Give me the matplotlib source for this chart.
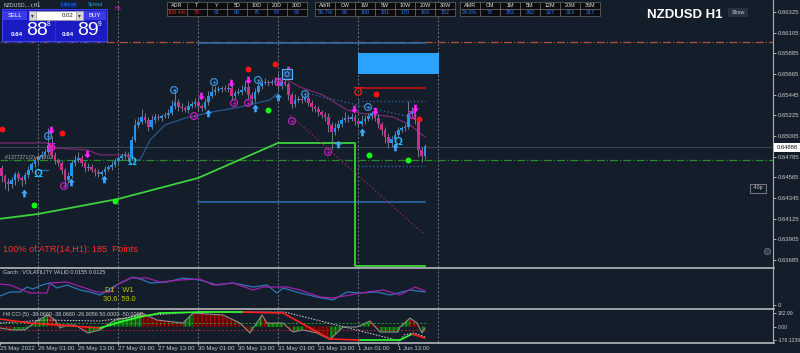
import matplotlib
matplotlib.use("Agg")
import matplotlib.pyplot as plt
from matplotlib.patches import Rectangle
from matplotlib.path import Path
import numpy as np

plt.rcParams['font.family'] = ['Liberation Sans', 'DejaVu Sans']
plt.rcParams['hatch.linewidth'] = 0.7

BG = '#141d2a'
BULL = '#2393f0'
BEAR = '#cc2e8c'

# ---------------- data ----------------
first_open = 0.64665
closes = [
    0.64580, 0.64516, 0.64495, 0.64538, 0.64601, 0.64559, 0.64538, 0.64591, 0.64644, 0.64708, 0.64751, 0.64782, 0.64804, 0.64836, 0.64910, 0.64804,
    0.64751, 0.64719, 0.64644, 0.64538, 0.64580, 0.64719, 0.64751, 0.64772, 0.64719, 0.64665, 0.64676, 0.64644, 0.64623, 0.64601, 0.64623, 0.64655,
    0.64676, 0.64697, 0.64740, 0.64772, 0.64793, 0.64804, 0.64782, 0.64963, 0.65123, 0.65155, 0.65208, 0.65176, 0.65102, 0.65176, 0.65208, 0.65197,
    0.65218, 0.65229, 0.65250, 0.65325, 0.65368, 0.65314, 0.65304, 0.65282, 0.65325, 0.65346, 0.65368, 0.65325, 0.65304, 0.65368, 0.65432, 0.65474,
    0.65495, 0.65506, 0.65517, 0.65506, 0.65517, 0.65432, 0.65463, 0.65474, 0.65495, 0.65527, 0.65442, 0.65400, 0.65474, 0.65538, 0.65570, 0.65580,
    0.65570, 0.65580, 0.65591, 0.65538, 0.65580, 0.65559, 0.65442, 0.65346, 0.65389, 0.65400, 0.65389, 0.65410, 0.65357, 0.65314, 0.65293, 0.65261,
    0.65229, 0.65208, 0.65123, 0.65048, 0.65091, 0.65134, 0.65176, 0.65197, 0.65186, 0.65208, 0.65165, 0.65134, 0.65165, 0.65186, 0.65218, 0.65250,
    0.65197, 0.65134, 0.65070, 0.64995, 0.64931, 0.64974, 0.65017, 0.65070, 0.65091, 0.65102, 0.65240, 0.65261, 0.65176, 0.64857, 0.64793, 0.64899,
]
wick_up_pips = [
    3, 2, 4, 3, 2, 3, 2, 3, 4, 2, 3, 2, 4, 3, 18, 10,
    3, 2, 3, 2, 4, 3, 5, 6, 3, 2, 4, 3, 2, 3, 2, 3,
    2, 4, 3, 2, 3, 4, 3, 4, 6, 5, 8, 4, 3, 5, 4, 3,
    2, 3, 4, 6, 14, 3, 4, 2, 5, 3, 4, 3, 2, 4, 5, 6,
    4, 3, 2, 3, 4, 3, 3, 4, 5, 6, 3, 3, 4, 5, 3, 4,
    2, 3, 4, 8, 3, 4, 2, 3, 6, 3, 4, 3, 5, 3, 2, 3,
    2, 3, 4, 3, 5, 4, 3, 6, 3, 4, 3, 2, 6, 4, 3, 2,
    3, 4, 2, 3, 4, 3, 4, 3, 2, 3, 14, 5, 4, 3, 3, 2,
]
wick_dn_pips = [
    6, 8, 7, 4, 5, 3, 6, 4, 3, 2, 3, 4, 2, 3, 2, 3,
    4, 3, 4, 8, 3, 2, 3, 2, 3, 4, 3, 2, 4, 3, 2, 3,
    2, 3, 2, 3, 2, 3, 4, 3, 2, 3, 2, 3, 4, 2, 3, 2,
    3, 2, 3, 2, 3, 4, 3, 2, 3, 2, 3, 4, 3, 2, 3, 2,
    3, 2, 3, 2, 3, 4, 3, 2, 3, 2, 4, 5, 3, 2, 3, 2,
    3, 2, 3, 4, 3, 2, 5, 4, 3, 2, 3, 2, 3, 4, 3, 4,
    3, 4, 8, 18, 3, 2, 3, 2, 3, 2, 4, 3, 2, 3, 2, 3,
    3, 4, 5, 6, 5, 3, 2, 3, 2, 3, 2, 3, 4, 8, 6, 3,
]

price_ticks = [0.66325, 0.66105, 0.65885, 0.65665, 0.65445, 0.65225, 0.65005,
               0.64785, 0.64565, 0.64345, 0.64125, 0.63905, 0.63685]
current_price = 0.64888

time_tick_bars = [-0.4, 11, 23, 35, 47, 59, 71, 83, 95, 107, 119]
time_tick_labels = ['25 May 2022', '26 May 01:00', '26 May 13:00', '27 May 01:00', '27 May 13:00',
                    '30 May 01:00', '30 May 13:00', '31 May 01:00', '31 May 13:00', '1 Jun 01:00', '1 Jun 13:00']
day_sep_bars = [11, 35, 59, 83, 107, 131]

# indicator lines (bar index, price)
green_ma_x = [-1, 10.9, 34.9, 58.9, 82.9, 106, 106, 127]
green_ma_y = [0.64122, 0.64175, 0.64335, 0.64558, 0.64931, 0.64931, 0.63622, 0.63622]
trail_x = [39.1, 41.5, 44.5, 49, 55, 63.1, 71.5, 80.5, 82.9]
trail_y = [0.64750, 0.64750, 0.64963, 0.65123, 0.65197, 0.65261, 0.65314, 0.65389, 0.65463]
trail2_x = [10.9, 14]
trail2_y = [0.64644, 0.64644]
ma1_x = [-1, 13.6, 16, 25.6, 29.5, 37.9]
ma1_y = [0.64931, 0.64931, 0.64878, 0.64857, 0.64804, 0.64804]
ma2_x = [85.6, 89.5, 96.4, 103.6, 107.5, 117.4, 122.5, 127]
ma2_y = [0.65602, 0.65527, 0.65442, 0.65282, 0.65250, 0.65208, 0.65123, 0.64995]
red_diag_x = [86.5, 127]
red_diag_y = [0.65229, 0.63952]
blue_diag_x = [91, 122.5]
blue_diag_y = [0.65463, 0.65208]
level_top = 0.66006
level_green = 0.64750
zone_lines = [0.65995, 0.64303]
zone_x = [59, 127]
dotted_levels = [0.65378, 0.64687]
dotted_x = [107, 127]
resist_level = 0.65516
resist_x = [107, 127]
box_x = [106.9, 131.2]
box_y = [0.65665, 0.65889]

# signals (bar, price)
red_dots = [(0.1, 0.65080), (18.1, 0.65037), (73.9, 0.65719), (82.0, 0.65772), (112.3, 0.65452), (125.2, 0.65186)]
green_dots = [(9.7, 0.64271), (34.0, 0.64314), (79.9, 0.65282), (110.2, 0.64803), (121.9, 0.64750)]
down_arrows = [(14.8, 0.65069), (25.6, 0.64814), (59.8, 0.65431), (68.8, 0.65570), (73.9, 0.65602),
               (85.9, 0.65708), (105.7, 0.65293), (112.0, 0.65272), (124.0, 0.65303)]
up_arrows = [(6.7, 0.64399), (20.8, 0.64516), (30.7, 0.64548), (61.9, 0.65250), (76.0, 0.65303),
             (82.9, 0.65420), (100.9, 0.64920), (108.1, 0.65048), (118.0, 0.64888)]
blue_rings = [(13.9, 0.65005), (51.7, 0.65495), (63.7, 0.65580), (76.9, 0.65602), (91.0, 0.65452), (109.9, 0.65314)]
mag_rings = [(18.7, 0.64473), (57.7, 0.65218), (69.7, 0.65357), (73.9, 0.65357), (87.1, 0.65165), (97.9, 0.64835)]
cyan_omega = [(10.9, 0.64601), (39.1, 0.64729), (118.9, 0.64942)]
mag_omega = [(14.8, 0.64920), (82.9, 0.65612), (123.1, 0.65261)]
red_omega = [(106.9, 0.65516)]
box_icon = [(85.6, 0.65665)]

# GARCH panel
garch_blue_x = [-0.5, 2.5, 5.5, 7.6, 9.4, 12.1, 14.5, 16.6, 19.6, 23.5, 26.5, 29.5, 33.4, 35.5, 37.6, 39.4, 42.4, 44.5,
                49.6, 54.4, 59.5, 64.6, 69.4, 75.4, 79.6, 82.6, 84.4, 89.5, 94.6, 99.4, 103.6, 107.5, 112.6, 116.5, 122.5, 127]
garch_blue_v = [0.009, 0.013, 0.013, 0.018, 0.016, 0.020, 0.022, 0.017, 0.020, 0.015, 0.013, 0.010, 0.018, 0.022, 0.025, 0.028, 0.025, 0.022,
                0.023, 0.027, 0.025, 0.020, 0.022, 0.018, 0.020, 0.012, 0.017, 0.012, 0.008, 0.005, 0.013, 0.012, 0.013, 0.010, 0.015, 0.013]
garch_purple_x = [-0.5, 2.5, 8.5, 13.6, 14.5, 19.6, 28.6, 32.5, 34.6, 38.5, 43.6, 47.5, 53.5, 59.5, 63.4, 69.4, 75.4, 78.4,
                  85.6, 89.5, 95.5, 99.4, 104.5, 109.6, 114.4, 119.5, 124, 127]
garch_purple_v = [0.021, 0.020, 0.012, 0.012, 0.022, 0.023, 0.013, 0.013, 0.020, 0.027, 0.027, 0.023, 0.025, 0.026, 0.020, 0.022, 0.015, 0.018,
                  0.018, 0.015, 0.008, 0.007, 0.010, 0.013, 0.015, 0.010, 0.018, 0.014]

# CCI panel
cci_x = [-0.5, 3.4, 7, 10.9, 13.9, 16, 17.5, 19.6, 22, 25.9, 29.5, 31.6, 34, 37.6, 42.1, 46.6, 54.4, 57.4, 66.4,
         71.5, 74.5, 78.1, 79.6, 84.4, 87.4, 90.4, 94.6, 98.5, 102.4, 106.6, 110.5, 113.5, 118.9, 119.5, 122.5, 124.6, 126.1, 127]
cci_v = [-20, -47, -47, 88, 156, 88, -20, 20, 20, -88, -47, 20, 88, 115, 183, 88, 47, 183, 156,
         47, -88, 156, 47, 47, -75, -47, -88, -176, -7, -7, 75, -75, -75, -7, 115, 47, -88, -20]
cci_sig_x = [-0.5, 8.5, 17.5, 29.5, 35.5, 41.5, 47.5, 59.5, 72.4, 84.4, 98.5, 107.5, 119.5, 123.1, 127]
cci_sig_v = [102, 47, 20, -20, 61, 129, 183, 196, 196, 183, -169, -183, -183, -102, -156]
cci_trend_x = [-0.5, 13, 29.5, 41.5, 53.5, 59.5, 85, 119.5, 120.7, 123.7, 127]
cci_trend_v = [47, 88, 75, 142, 183, 196, 196, -196, -115, -88, -142]
cci_levels = [50, -50]

# header table
hdr_groups = [
    (['ADR', 'T', 'Y', '5D', '10D', '20D', '30D'], ['108.4%', '75', '81', '69', '75', '84', '83']),
    (['AWR', 'CW', '1W', '5W', '10W', '20W', '30W'], ['58.7%', '99', '160', '181', '170', '164', '152']),
    (['AMR', 'CM', '1M', '5M', '12M', '20M', '36M'], ['24.0%', '75', '352', '362', '327', '313', '317']),
]
hdr_value_colors = [['#ff2020', '#ff2020'] + ['#2a78ff'] * 5, ['#2a78ff'] * 7, ['#2a78ff'] * 7]

# ---------------- figure ----------------
W, H = 800, 353
fig = plt.figure(figsize=(W / 100, H / 100), dpi=100, facecolor=BG)


def pos(y0, y1):
    return [0, 1 - y1 / H, 773 / W, (y1 - y0) / H]


ax = fig.add_axes(pos(0, 267))
axg = fig.add_axes(pos(268, 308))
axc = fig.add_axes(pos(310, 342))
XL = (-0.5, 231.4)
for a in (ax, axg, axc):
    a.set_facecolor(BG)
    for s in a.spines.values():
        s.set_visible(False)
    a.spines['right'].set_visible(True)
    a.spines['right'].set_color('#a9b0b8')
    a.spines['right'].set_linewidth(0.8)
    a.set_xlim(*XL)
    for b in day_sep_bars:
        a.axvline(b, color='#6f7780', ls=(0, (2, 2)), lw=0.7, zorder=1)
    a.tick_params(axis='x', bottom=False, labelbottom=False)
    a.yaxis.tick_right()
    a.tick_params(axis='y', colors='#c8c8c8', labelsize=4.3, length=2, width=0.6, pad=1.5)

ax.set_ylim(0.63611, 0.66453)
ax.set_yticks(price_ticks)
ax.set_yticklabels([f'{p:.5f}' for p in price_ticks])

# horizontal levels
ax.axhline(level_top, color='#b4503c', ls='-.', lw=0.9, zorder=2)
ax.plot([-0.5, 31], [level_top, level_top], color='#1e32b4', ls='--', lw=0.9, zorder=2)
ax.axhline(level_green, color='#2a8c2a', ls='-.', lw=0.9, zorder=2)
ax.axhline(current_price, color='#34484e', lw=0.8, zorder=2)
for z in zone_lines:
    ax.plot(zone_x, [z, z], color='#2f6db5', lw=1.1, zorder=2)
for z in dotted_levels:
    ax.plot(dotted_x, [z, z], color='#2f5f9a', ls=':', lw=1.0, zorder=2)
ax.plot(resist_x, [resist_level, resist_level], color='#b41414', lw=1.3, zorder=2)
ax.add_patch(Rectangle((box_x[0], box_y[0]), box_x[1] - box_x[0], box_y[1] - box_y[0],
                       facecolor='#2aa3ff', edgecolor='none', zorder=2))

# indicator lines
ax.plot(green_ma_x, green_ma_y, color='#3cd23c', lw=1.3, zorder=2)
ax.plot(trail_x, trail_y, color='#2a5a8c', lw=0.9, zorder=2)
ax.plot(trail2_x, trail2_y, color='#2a6aa8', lw=0.9, zorder=2)
ax.plot(ma1_x, ma1_y, color='#7a2a6e', lw=0.9, zorder=2)
ax.plot(ma2_x, ma2_y, color='#7a2a6e', lw=0.9, zorder=2)
ax.plot(red_diag_x, red_diag_y, color='#8c2850', ls=':', lw=1.0, zorder=2)
ax.plot(blue_diag_x, blue_diag_y, color='#2f5f9a', ls=':', lw=1.0, zorder=2)

# candles
c = np.array(closes)
o = np.array([first_open] + closes[:-1])
xb = np.arange(len(c))
hi = np.maximum(o, c) + np.array(wick_up_pips) * 1e-4
lo = np.minimum(o, c) - np.array(wick_dn_pips) * 1e-4
bull = c >= o
ax.vlines(xb, lo, hi, color='#7e8b98', lw=0.6, zorder=3)
body = np.where(np.abs(c - o) < 0.00003, 0.00003, c - o)
ax.bar(xb, body, bottom=o, width=0.8, color=np.where(bull, BULL, BEAR), lw=0, zorder=4)

# signals


def xy(lst):
    return [p[0] for p in lst], [p[1] for p in lst]


arrow_dn = Path([(0, -1), (-0.9, 0), (-0.35, 0), (-0.35, 1), (0.35, 1), (0.35, 0), (0.9, 0), (0, -1)])
arrow_up = Path([(0, 1), (-0.9, 0), (-0.35, 0), (-0.35, -1), (0.35, -1), (0.35, 0), (0.9, 0), (0, 1)])
px, py = xy(red_dots)
ax.scatter(px, py, s=18, color='#ff1414', zorder=6, lw=0)
px, py = xy(green_dots)
ax.scatter(px, py, s=18, color='#12ff12', zorder=6, lw=0)
px, py = xy(down_arrows)
ax.scatter(px, py, s=30, marker=arrow_dn, color='#ff22ff', zorder=6, lw=0)
px, py = xy(up_arrows)
ax.scatter(px, py, s=30, marker=arrow_up, color='#3fa6ff', zorder=6, lw=0)
for lst, col in ((blue_rings, '#3d8fd8'), (mag_rings, '#c020c0')):
    px, py = xy(lst)
    ax.scatter(px, py, s=24, facecolor='none', edgecolor=col, lw=0.9, zorder=6)
    ax.scatter(px, py, s=3, color=col, lw=0, zorder=6)
px, py = xy(box_icon)
ax.scatter(px, py, s=45, marker='s', facecolor='#1e3a5c', edgecolor='#5aaeff', lw=0.8, zorder=6)
ax.scatter(px, py, s=10, facecolor='none', edgecolor='#5aaeff', lw=0.6, zorder=7)
for (bx, by) in cyan_omega:
    ax.text(bx, by, 'Ω', color='#22c6ff', fontsize=8, fontweight='bold', ha='center', va='center', zorder=6)
for (bx, by) in mag_omega:
    ax.text(bx, by, 'Ω', color='#e020e0', fontsize=8, fontweight='bold', ha='center', va='center', rotation=180, zorder=6)
for (bx, by) in red_omega:
    ax.text(bx, by, 'Ω', color='#e01414', fontsize=8.5, fontweight='bold', ha='center', va='center', rotation=180, zorder=6)

# GARCH panel
axg.set_ylim(-0.003, 0.037)
axg.set_yticks([0])
axg.set_yticklabels(['0'])
axg.plot(garch_blue_x, garch_blue_v, color='#2a78b8', lw=0.9, zorder=3)
axg.plot(garch_purple_x, garch_purple_v, color='#a020a8', lw=0.9, zorder=3)

# CCI panel
axc.set_ylim(-210, 224)
axc.set_yticks([182.99, 0, -176.1236])
axc.set_yticklabels(['182.99', '0.00', '-176.1236'])
axc.tick_params(axis='y', labelsize=3.7)
for i in range(len(cci_x) - 1):
    xs = cci_x[i:i + 2]
    vs = cci_v[i:i + 2]
    rising = vs[1] >= vs[0]
    axc.fill_between(xs, vs, 0, facecolor='#0b5e0b' if rising else '#5e0606',
                     edgecolor='#22b022' if rising else '#b01212', hatch='||||', lw=0, zorder=2)
axc.plot(cci_x, cci_v, color='#8a8a8a', lw=0.8, zorder=3)
axc.plot([-0.5, 128], [cci_levels[0]] * 2, color='#2a9a2a', ls=(0, (2, 2)), lw=0.7, zorder=2)
axc.plot([-0.5, 128], [cci_levels[1]] * 2, color='#b02020', ls=(0, (2, 2)), lw=0.7, zorder=2)
axc.plot(cci_trend_x, cci_trend_v, color='#d8d8d8', ls=(0, (1.5, 1.5)), lw=0.7, zorder=3)
for i in range(len(cci_sig_x) - 1):
    vs = cci_sig_v[i:i + 2]
    axc.plot(cci_sig_x[i:i + 2], vs, color='#30ff30' if vs[1] >= vs[0] else '#ff2020', lw=1.2, zorder=4,
             solid_capstyle='round')
axc.set_xticks(time_tick_bars)
axc.set_xticklabels(time_tick_labels)
axc.tick_params(axis='x', bottom=True, labelbottom=True, colors='#c8c8c8', labelsize=4.3, length=2, width=0.6, pad=1)
for lbl in axc.get_xticklabels():
    lbl.set_ha('left')

# ---------------- overlay (UI widgets, in pixels) ----------------
ov = fig.add_axes([0, 0, 1, 1], zorder=20)
ov.set_xlim(0, W)
ov.set_ylim(H, 0)
ov.axis('off')
ov.patch.set_alpha(0)


def rect(x0, y0, w, h, fc, ec='none', lw=0.6):
    ov.add_patch(Rectangle((x0, y0), w, h, facecolor=fc, edgecolor=ec, lw=lw))


def txt(x, y, s, col='#d0d0d0', fs=4.3, ha='left', va='center', **kw):
    ov.text(x, y, s, color=col, fontsize=fs, ha=ha, va=va, **kw)


# separators
for yy in (267.6, 309.2, 342.6):
    ov.plot([0, 773.5], [yy, yy], color='#b4b8bc', lw=1.2)

# symbol caption
txt(4, 4.5, 'NZDUSD,...r,H1', '#d0d0d0', 3.8)
rect(60, 1.5, 17, 6, '#0b2462')
txt(68.5, 4.6, 'Lots ss', '#2f86ff', 3.3, ha='center')
txt(95, 4.6, 'Spread', '#2aa0d8', 3.3, ha='center')
txt(118, 9, 'Hh', '#e020e0', 3.8, ha='center')

# trade panel
rect(2, 9, 105, 32, '#1b1bc4', '#4a4aff', 0.6)
rect(3, 11, 24, 9, '#3a3ae6')
txt(15, 15.5, 'SELL', '#ffffff', 4.3, ha='center')
rect(83, 11, 23, 9, '#3a3ae6')
txt(94.5, 15.5, 'BUY', '#ffffff', 4.3, ha='center')
rect(28.5, 11, 54, 9, '#ffffff', '#9a9a9a', 0.5)
rect(28.5, 11, 7, 9, '#d6d6d6', '#9a9a9a', 0.5)
rect(75.5, 11, 7, 9, '#d6d6d6', '#9a9a9a', 0.5)
txt(32, 15.5, '▾', '#303030', 4, ha='center')
txt(79, 15.5, '▾', '#303030', 4, ha='center')
txt(73, 15.5, '0.02', '#202020', 4.3, ha='right')
ov.plot([55, 55], [21, 40], color='#3434a8', lw=0.8)
txt(16.5, 34, '0.64', '#ffffff', 4.5, ha='center', fontweight='bold')
txt(37, 30.5, '88', '#ffffff', 14, ha='center')
txt(49, 25, '8', '#ffffff', 4.8, ha='center')
txt(68, 34, '0.64', '#ffffff', 4.5, ha='center', fontweight='bold')
txt(88, 30.5, '89', '#ffffff', 14, ha='center')
txt(100, 25, '9', '#ffffff', 4.8, ha='center')

# range table
group_x0 = [167, 315, 460]
for gi, (labels, values) in enumerate(hdr_groups):
    for k, (lab, val) in enumerate(zip(labels, values)):
        x0 = group_x0[gi] + 20 * k
        rect(x0, 2, 20, 7, '#0c0c0e', '#6a6a6a', 0.5)
        rect(x0, 9, 20, 7, '#0c0c0e', '#6a6a6a', 0.5)
        txt(x0 + 10, 5.6, lab, '#e0e0e0', 3.9, ha='center')
        txt(x0 + 10, 12.6, val, hdr_value_colors[gi][k], 3.9, ha='center')

txt(685, 15, 'NZDUSD H1', '#ffffff', 9.5, ha='center', fontweight='bold')
rect(728, 8, 20, 9, '#27323f')
txt(738, 12.6, 'Show', '#c8d0d8', 3.9, ha='center')

# right-side labels
rect(774, 142.5, 26, 9, '#ffffff')
txt(787, 147.2, f'{current_price:.5f}', '#101010', 4.2, ha='center')
rect(750, 183.5, 16, 9, BG, '#8a8a8a', 0.6)
txt(758, 188, '-40p', '#c8c8c8', 3.8, ha='center')
ov.scatter([767], [251], s=22, facecolor='#3a4450', edgecolor='#6a7480', lw=0.5)

# chart annotations
txt(3, 249, '100% of ATR(14,H1): 185  Points', '#ff2a2a', 6.6)
txt(5, 157, '#1377271(2) m 0.02', '#b0b0b0', 3.8)
txt(3, 272.5, 'Garch : VOLATILITY VALID 0.0155 0.0125', '#d0d0d0', 3.9)
txt(105, 291, 'D1    W1', '#c8c800', 5.3)
txt(103, 299.5, '30.6  59.0', '#c8c800', 5.3)
txt(3, 314.5, 'H4 CCI (5) -38.0680 -38.0680 -26.9056 50.0000 -50.0000', '#d0d0d0', 3.9)

fig.savefig('out.png', dpi=100, facecolor=BG)
